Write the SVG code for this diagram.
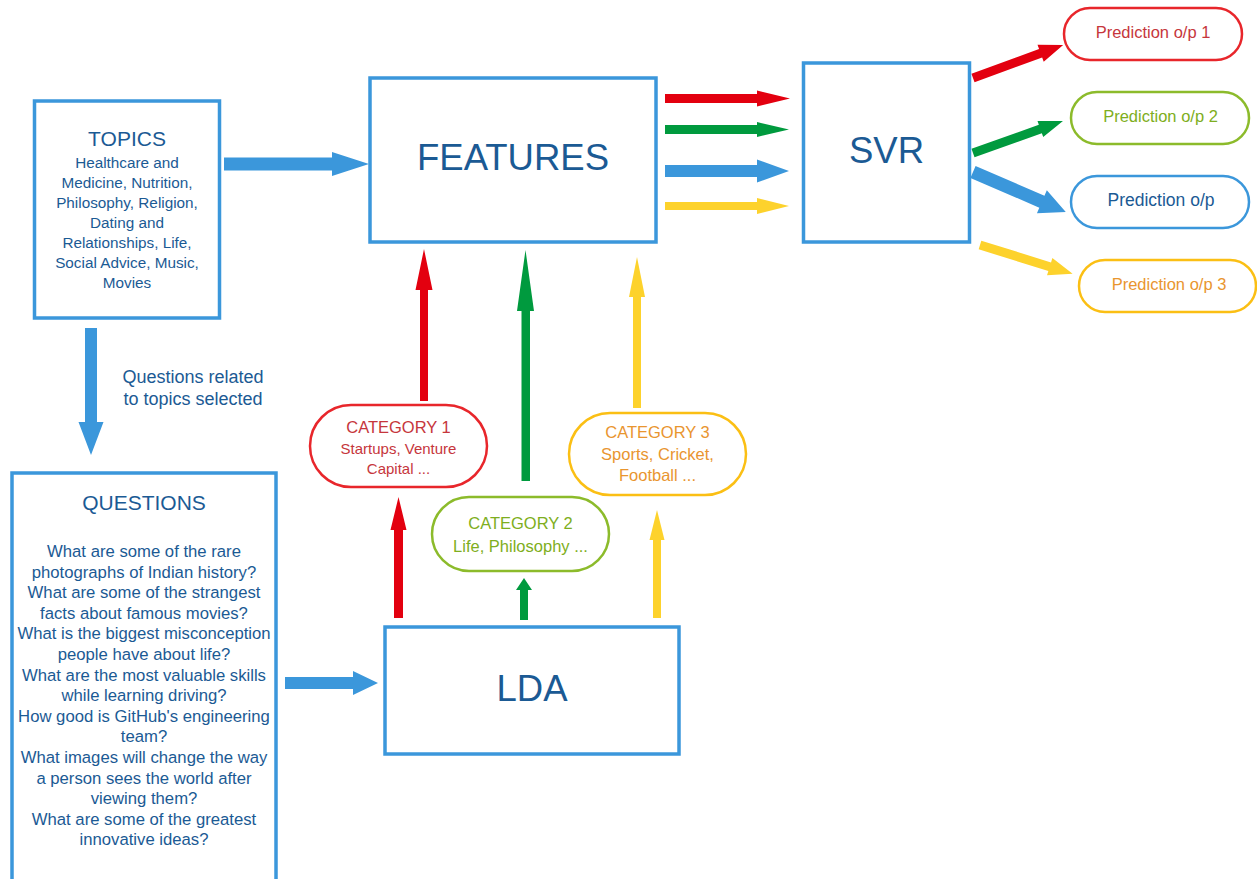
<svg xmlns="http://www.w3.org/2000/svg" width="1257" height="879" viewBox="0 0 1257 879">
<style>
.box{fill:#fff;stroke:#3b97db;stroke-width:3.5}
.pill{fill:#fff;stroke-width:2.5}
text{font-family:"Liberation Sans",Arial,sans-serif;text-anchor:middle}
.tb{fill:#1b5a94}
.big{font-size:36.5px}
.ttl{font-size:21px}
.red{fill:#e3000f}
.grn{fill:#009a3e}
.blu{fill:#3b97db}
.yel{fill:#fdd22c}
.c1{fill:#c6363c}
.c2{fill:#7eae20}
.c3{fill:#e9952f}
</style>
<rect width="1257" height="879" fill="#fff"/>
<g id="connectors">
<polygon class="blu" points="224,157.5 332,157.5 332,152 369,164 332,176 332,170.5 224,170.5"/>
<polygon class="red" points="665,94 757,94 757,90.5 790,98.5 757,106.5 757,103 665,103"/>
<polygon class="grn" points="665,125 757,125 757,122 789,129.5 757,137 757,134 665,134"/>
<polygon class="blu" points="665,165 757,165 757,159.5 789,171 757,182.5 757,177 665,177"/>
<polygon class="yel" points="665,202 757,202 757,198 789,206 757,214 757,210 665,210"/>
<polygon class="blu" points="285,677 353,677 353,671 378,683 353,695 353,689 285,689"/>
<polygon class="blu" points="85,328 97,328 97,422 103.5,422 91,455 78.5,422 85,422"/>
<polygon class="red" points="394,618 394,530 390.5,530 398.5,497 406.5,530 403,530 403,618"/>
<polygon class="grn" points="520,620 520,590 516,590 524,578 532,590 528,590 528,620"/>
<polygon class="yel" points="653,618 653,540 649.5,540 657,510 664.5,540 661,540 661,618"/>
<polygon class="red" points="420,401 420,290 415.5,290 424,249 432.5,290 428,290 428,401"/>
<polygon class="grn" points="521.5,481 521.5,311 517,311 525.5,250 534,311 530,311 530,481"/>
<polygon class="yel" points="633,408 633,297 629,297 637,257 645,297 641,297 641,408"/>
<polygon class="red" transform="translate(973,78) rotate(-20.1)" points="0,-4.5 72,-4.5 72,-9 96,0 72,9 72,4.5 0,4.5"/>
<polygon class="grn" transform="translate(973,153) rotate(-19.6)" points="0,-4.5 71.5,-4.5 71.5,-8.5 95.5,0 71.5,8.5 71.5,4.5 0,4.5"/>
<polygon class="blu" transform="translate(973,172) rotate(23.3)" points="0,-6.5 75,-6.5 75,-12.5 101,0 75,12.5 75,6.5 0,6.5"/>
<polygon class="yel" transform="translate(980,245) rotate(17.3)" points="0,-4.5 73,-4.5 73,-9 97,0 73,9 73,4.5 0,4.5"/>
</g>
<g id="topics">
<rect class="box" x="34.5" y="101" width="185" height="217"/>
<text class="tb ttl" x="127" y="146">TOPICS</text>
<g class="tb" font-size="15.3">
<text x="127" y="168">Healthcare and</text>
<text x="127" y="188">Medicine, Nutrition,</text>
<text x="127" y="208">Philosophy, Religion,</text>
<text x="127" y="228">Dating and</text>
<text x="127" y="248">Relationships, Life,</text>
<text x="127" y="268">Social Advice, Music,</text>
<text x="127" y="288">Movies</text>
</g>
</g>
<g id="edge-label">
<text class="tb" font-size="18" x="193" y="383">Questions related</text>
<text class="tb" font-size="18" x="193" y="405">to topics selected</text>
</g>
<g id="features">
<rect class="box" x="370" y="78" width="286" height="164"/>
<text class="tb big" x="513" y="170">FEATURES</text>
</g>
<g id="svr">
<rect class="box" x="803.5" y="63" width="166" height="179"/>
<text class="tb big" x="886.5" y="163">SVR</text>
</g>
<g id="lda">
<rect class="box" x="385" y="627" width="294" height="127"/>
<text class="tb big" x="532" y="701">LDA</text>
</g>
<g id="questions">
<rect class="box" x="12" y="473" width="264" height="420"/>
<text class="tb ttl" x="144" y="510">QUESTIONS</text>
<g class="tb" font-size="16.7">
<text x="144" y="557">What are some of the rare</text>
<text x="144" y="577.6">photographs of Indian history?</text>
<text x="144" y="598.2">What are some of the strangest</text>
<text x="144" y="618.8">facts about famous movies?</text>
<text x="144" y="639.4">What is the biggest misconception</text>
<text x="144" y="660">people have about life?</text>
<text x="144" y="680.6">What are the most valuable skills</text>
<text x="144" y="701.2">while learning driving?</text>
<text x="144" y="721.8">How good is GitHub's engineering</text>
<text x="144" y="742.4">team?</text>
<text x="144" y="763">What images will change the way</text>
<text x="144" y="783.6">a person sees the world after</text>
<text x="144" y="804.2">viewing them?</text>
<text x="144" y="824.8">What are some of the greatest</text>
<text x="144" y="845.4">innovative ideas?</text>
</g>
</g>
<g id="category1">
<rect class="pill" stroke="#e8262b" x="310" y="405" width="177" height="82" rx="41"/>
<text class="c1" font-size="16.5" x="398.5" y="433">CATEGORY 1</text>
<text class="c1" font-size="15" x="398.5" y="454">Startups, Venture</text>
<text class="c1" font-size="15" x="398.5" y="474">Capital ...</text>
</g>
<g id="category2">
<rect class="pill" stroke="#8cbb2b" x="432" y="497" width="177" height="74" rx="37"/>
<text class="c2" font-size="16.5" x="520.5" y="529">CATEGORY 2</text>
<text class="c2" font-size="16.5" x="520.5" y="552">Life, Philosophy ...</text>
</g>
<g id="category3">
<rect class="pill" stroke="#fbbf14" x="569" y="413" width="177" height="82" rx="41"/>
<text class="c3" font-size="16.5" x="657.5" y="438">CATEGORY 3</text>
<text class="c3" font-size="16.5" x="657.5" y="460">Sports, Cricket,</text>
<text class="c3" font-size="16.5" x="657.5" y="481">Football ...</text>
</g>
<g id="pred1">
<rect class="pill" stroke="#e8262b" x="1064" y="8" width="178" height="52" rx="26"/>
<text class="c1" font-size="16.5" x="1153" y="38">Prediction o/p 1</text>
</g>
<g id="pred2">
<rect class="pill" stroke="#8cbb2b" x="1071" y="92" width="178" height="52" rx="26"/>
<text class="c2" font-size="16.5" x="1160.5" y="122">Prediction o/p 2</text>
</g>
<g id="pred">
<rect class="pill" stroke="#3b97db" x="1071" y="176" width="178" height="52" rx="26"/>
<text class="tb" font-size="17.5" x="1161" y="206">Prediction o/p</text>
</g>
<g id="pred3">
<rect class="pill" stroke="#fbbf14" x="1079" y="260" width="177" height="52" rx="26"/>
<text class="c3" font-size="16.5" x="1169" y="290">Prediction o/p 3</text>
</g>
</svg>
